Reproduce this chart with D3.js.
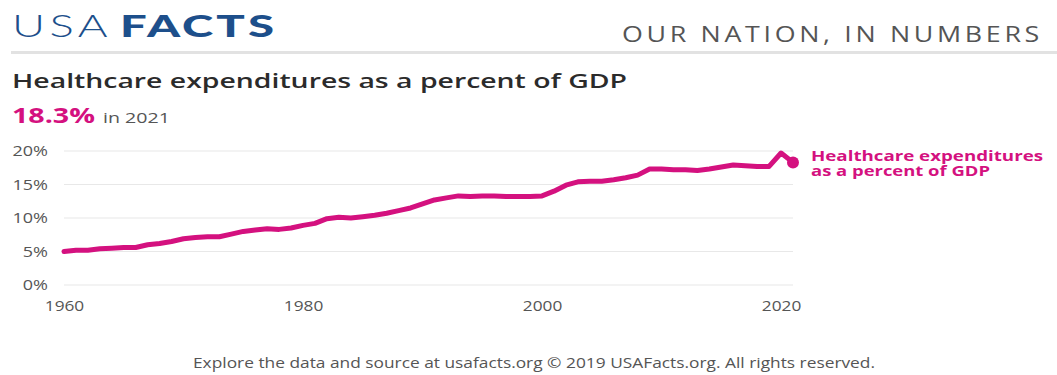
<!DOCTYPE html>
<html>
<head>
<meta charset="utf-8">
<script src="https://cdn.jsdelivr.net/npm/d3@7"></script>
<style>
  html, body { margin: 0; padding: 0; background: #fff; }
  svg { display: block; }
</style>
</head>
<body>
<svg id="chart" width="1057" height="375"></svg>
<script>
// National health expenditures as a share of GDP, 1960–2021
const years = d3.range(1960, 2022);
const sharePct = [
  5.0, 5.2, 5.2, 5.4, 5.5, 5.6, 5.6, 6.0, 6.2, 6.5,
  6.9, 7.1, 7.2, 7.2, 7.6, 8.0, 8.2, 8.4, 8.3, 8.5,
  8.9, 9.2, 9.9, 10.1, 10.0, 10.2, 10.4, 10.7, 11.1, 11.5,
  12.1, 12.7, 13.0, 13.3, 13.2, 13.3, 13.3, 13.2, 13.2, 13.2,
  13.3, 14.0, 14.9, 15.4, 15.5, 15.5, 15.7, 16.0, 16.4, 17.3,
  17.3, 17.2, 17.2, 17.1, 17.3, 17.6, 17.9, 17.8, 17.7, 17.7,
  19.7, 18.3
];
const yTicks = [0, 5, 10, 15, 20];
const xTicks = [1960, 1980, 2000, 2020];
const seriesLabel = ["Healthcare expenditures", "as a percent of GDP"];

const accent = "#d4117f";
const font = "'Open Sans', sans-serif";
const svg = d3.select("#chart");

// Widen a text element by a factor of its natural width
function widen(sel, factor) {
  sel.each(function () {
    const w = this.getComputedTextLength();
    d3.select(this).attr("textLength", w * factor).attr("lengthAdjust", "spacingAndGlyphs");
  });
}

// Header
svg.append("text").attr("x", 12).attr("y", 37)
  .attr("font-family", "Lato, sans-serif").attr("font-size", 31).attr("font-weight", 300)
  .attr("letter-spacing", 3)
  .attr("fill", "#1d4f8b").attr("textLength", 100).attr("lengthAdjust", "spacingAndGlyphs").text("USA");
svg.append("text").attr("x", 120).attr("y", 37)
  .attr("font-family", "Lato, sans-serif").attr("font-size", 31).attr("font-weight", 900)
  .attr("letter-spacing", 2)
  .attr("fill", "#1d4f8b").attr("textLength", 157).attr("lengthAdjust", "spacingAndGlyphs").text("FACTS");

svg.append("text").attr("x", 622).attr("y", 42)
  .attr("font-family", font).attr("font-size", 22).attr("letter-spacing", 3)
  .attr("textLength", 421).attr("lengthAdjust", "spacingAndGlyphs")
  .attr("fill", "#555").text("OUR NATION, IN NUMBERS");

svg.append("rect").attr("x", 11).attr("y", 51).attr("width", 1046).attr("height", 3).attr("fill", "#e2e2e2");

// Title and headline value
svg.append("text").attr("x", 12).attr("y", 88)
  .attr("font-family", font).attr("font-size", 20).attr("font-weight", 600)
  .attr("textLength", 615).attr("lengthAdjust", "spacingAndGlyphs")
  .attr("fill", "#2b2b2b").text("Healthcare expenditures as a percent of GDP");

svg.append("text").attr("x", 12).attr("y", 123)
  .attr("font-family", font).attr("font-size", 21).attr("font-weight", 700).attr("fill", accent)
  .attr("textLength", 83).attr("lengthAdjust", "spacingAndGlyphs")
  .text(sharePct[sharePct.length - 1].toFixed(1) + "%");
svg.append("text").attr("x", 103).attr("y", 123)
  .attr("font-family", font).attr("font-size", 15).attr("fill", "#555")
  .attr("textLength", 67).attr("lengthAdjust", "spacingAndGlyphs")
  .text("in " + years[years.length - 1]);

// Scales
const x = d3.scaleLinear().domain([1960, 2021]).range([64, 793]);
const y = d3.scaleLinear().domain([0, 20]).range([285, 151]);

// Grid lines
svg.append("g").selectAll("line").data(yTicks).join("line")
  .attr("x1", 64).attr("x2", 793)
  .attr("y1", d => y(d)).attr("y2", d => y(d))
  .attr("stroke", "#e8e8e8").attr("stroke-width", 1.2);

// Y axis labels
const yAxis = svg.append("g").attr("transform", "translate(48,0)")
  .call(d3.axisLeft(y).tickValues(yTicks).tickSize(0).tickPadding(0).tickFormat(d => d + "%"));
yAxis.select(".domain").remove();
yAxis.selectAll("text").attr("font-family", font).attr("font-size", 15).attr("fill", "#555")
  .call(widen, 1.2);

// X axis labels
const xAxis = svg.append("g").attr("transform", "translate(0,300)")
  .call(d3.axisBottom(x).tickValues(xTicks).tickSize(0).tickPadding(0).tickFormat(d3.format("d")));
xAxis.select(".domain").remove();
xAxis.selectAll("text").attr("font-family", font).attr("font-size", 15).attr("fill", "#555")
  .call(widen, 1.15);

// Series line
const pts = years.map((yr, i) => [yr, sharePct[i]]);
svg.append("path").datum(pts)
  .attr("fill", "none").attr("stroke", accent).attr("stroke-width", 5)
  .attr("stroke-linejoin", "round").attr("stroke-linecap", "round")
  .attr("d", d3.line().x(d => x(d[0])).y(d => y(d[1])));

const last = pts[pts.length - 1];
svg.append("circle").attr("cx", x(last[0])).attr("cy", y(last[1])).attr("r", 6).attr("fill", accent);

// Series label
svg.append("g").selectAll("text").data(seriesLabel).join("text")
  .attr("x", 811).attr("y", (d, i) => 160.5 + i * 15.5)
  .attr("font-family", font).attr("font-size", 13.5).attr("font-weight", 700).attr("fill", accent)
  .attr("textLength", (d, i) => i === 0 ? 232 : 179).attr("lengthAdjust", "spacingAndGlyphs")
  .text(d => d);

// Footer
svg.append("text").attr("x", 193).attr("y", 368)
  .attr("font-family", font).attr("font-size", 14.5).attr("fill", "#555")
  .attr("textLength", 682).attr("lengthAdjust", "spacingAndGlyphs")
  .text("Explore the data and source at usafacts.org © 2019 USAFacts.org. All rights reserved.");
</script>
</body>
</html>
